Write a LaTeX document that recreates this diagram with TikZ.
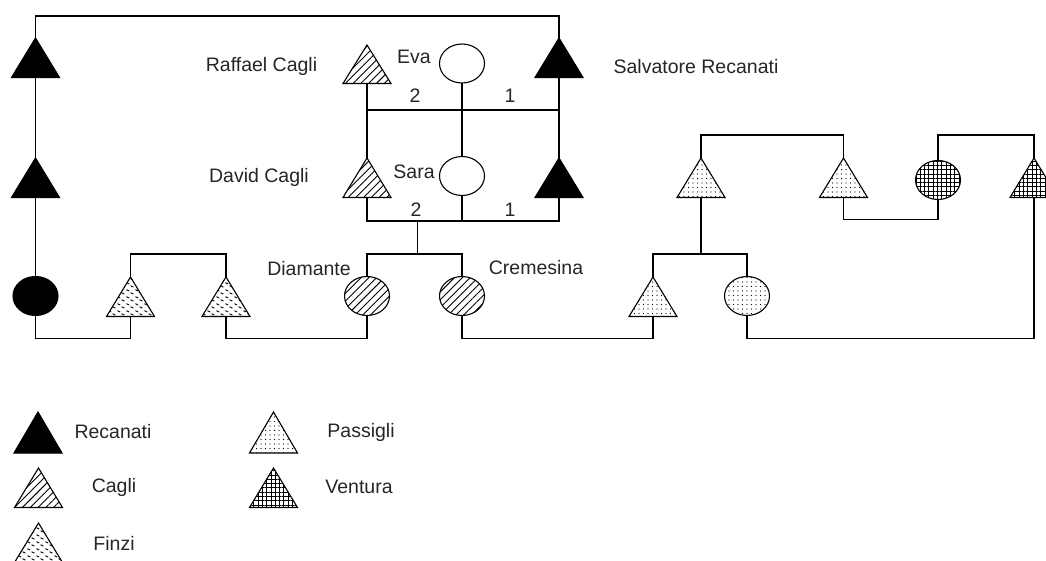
\documentclass[tikz,border=0pt]{standalone}
\usepackage{fontspec}
\setmainfont{Liberation Sans}
\usetikzlibrary{shapes.geometric,patterns,patterns.meta}
\pgfdeclarepatternformonly{finzi}{\pgfpointorigin}{\pgfpoint{9pt}{7pt}}{\pgfpoint{9pt}{7pt}}{%
  \pgfsetlinewidth{1pt}%
  \pgfpathmoveto{\pgfpoint{0.5pt}{6pt}}\pgfpathlineto{\pgfpoint{3.5pt}{4.4pt}}%
  \pgfpathmoveto{\pgfpoint{5pt}{2.6pt}}\pgfpathlineto{\pgfpoint{8pt}{1pt}}%
  \pgfusepath{stroke}}
\begin{document}
\begin{tikzpicture}[x=1pt,y=-1pt,line width=1.1pt,
  tri/.style={isosceles triangle, isosceles triangle stretches, shape border rotate=90,
    minimum width=48, minimum height=39.5, inner sep=0, outer sep=0, draw, anchor=apex},
  circ/.style={ellipse, minimum width=45, minimum height=39, inner sep=0, outer sep=0, draw},
  recfill/.style={fill=black},
  cagfill/.style={pattern={Lines[angle=45,distance=5.5pt,line width=0.9pt]}},
  finfill/.style={pattern=finzi},
  pasfill/.style={pattern={Dots[distance=4.5pt,radius=0.55pt]}},
  venfill/.style={pattern={Hatch[distance=4.3pt,line width=0.8pt]}},
  lbl/.style={font=\fontsize{19.5}{22}\selectfont, inner sep=0, text=black!85}]
\useasboundingbox (0,0) rectangle (1046,561);
\clip (0,0) rectangle (1046,561);
\fill[white] (0,0) rectangle (1046,561);
% --- Recanati / Cagli generations
\node[tri,recfill] (L1) at (35.5,38) {};
\node[tri,recfill] (L2) at (35.5,158) {};
\node[tri,recfill] (R1) at (559,38) {};
\node[tri,recfill] (R2) at (559,158) {};
\node[tri,cagfill,minimum height=38.5] (RC) at (367,45) {};
\node[tri,cagfill] (DC) at (367,158) {};
\node[circ] (Eva) at (462,63.5) {};
\node[circ] (Sara) at (462,176) {};
% --- third row
\node[circ,recfill] (BC) at (35.5,296) {};
\node[tri,finfill] (F1) at (130.5,277) {};
\node[tri,finfill] (F2) at (226,277) {};
\node[circ,cagfill] (Dia) at (367,296) {};
\node[circ,cagfill] (Cre) at (462,296) {};
\node[tri,pasfill] (P3) at (653,277) {};
\node[circ,pasfill] (PC) at (747,296) {};
\node[tri,pasfill] (P1) at (701,158) {};
\node[tri,pasfill] (P2) at (843.5,158) {};
\node[circ,venfill] (VC) at (938,180) {};
\node[tri,venfill] (VT) at (1034,158) {};
% --- labels
\node[lbl] (tRC) at (261.5,66) {Raffael Cagli};
\node[lbl] (tDC) at (259,177) {David Cagli};
\node[lbl] (tEva) at (414,57) {Eva};
\node[lbl] (tSara) at (414,172) {Sara};
\node[lbl] (tSR) at (696,67) {Salvatore Recanati};
\node[lbl] (tDia) at (309,269) {Diamante};
\node[lbl] (tCre) at (536,268) {Cremesina};
\node[lbl] (n2a) at (415,96) {2};
\node[lbl] (n1a) at (510,96) {1};
\node[lbl] (n2b) at (416,210) {2};
\node[lbl] (n1b) at (510,210) {1};
% --- helper levels
\coordinate (topL) at (35.5,16);
\coordinate (topR) at (559,16);
\coordinate (m1) at (0,110);
\coordinate (m2) at (0,221);
\coordinate (c1) at (417.5,221);
\coordinate (s1) at (0,254);
\coordinate (b1) at (0,338.5);
\coordinate (t1) at (0,135);
\coordinate (m3) at (0,219.5);
% --- connectors
\draw (L1.apex) -- (topL) -- (topR) -- (R1.apex);
\draw (L1.lower side) -- (L2.apex);
\draw (L2.lower side) -- (BC.north);
\draw (R1.lower side) -- (R2.apex);
\draw (RC.lower side) -- (DC.apex);
\draw (Eva.south) -- (Sara.north);
\draw (RC.lower side |- m1) -- (R2.apex |- m1);
\draw (DC.lower side) |- (R2.lower side |- m2) -- (R2.lower side);
\draw (Sara.south) -- (Sara.south |- m2);
\draw (c1) -- (c1 |- s1);
\draw (Dia.north) |- (Cre.north |- s1) -- (Cre.north);
\draw (F1.apex) |- (F2.apex |- s1) -- (F2.apex);
\draw (BC.south) |- (F1.lower side |- b1) -- (F1.lower side);
\draw (F2.lower side) |- (Dia.south |- b1) -- (Dia.south);
\draw (Cre.south) |- (P3.lower side |- b1) -- (P3.lower side);
\draw (P3.apex) |- (PC.north |- s1) -- (PC.north);
\draw (P1.lower side) -- (P1.lower side |- s1);
\draw (P1.apex) |- (P2.apex |- t1) -- (P2.apex);
\draw (P2.lower side) |- (VC.south |- m3) -- (VC.south);
\draw (VC.north) |- (VT.apex |- t1) -- (VT.apex);
\draw (VT.lower side) |- (PC.south |- b1) -- (PC.south);
% --- legend
\node[tri,recfill,minimum height=41] (LR) at (38,412) {};
\node[tri,cagfill] (LC) at (38.5,468) {};
\node[tri,finfill] (LF) at (38.5,523) {};
\node[tri,pasfill,minimum height=41] (LP) at (273.5,412) {};
\node[tri,venfill] (LV) at (273.5,468) {};
\node[lbl] (tLR) at (113,432) {Recanati};
\node[lbl] (tLC) at (114,487) {Cagli};
\node[lbl] (tLF) at (114,543) {Finzi};
\node[lbl] (tLP) at (361,432) {Passigli};
\node[lbl] (tLV) at (359,487) {Ventura};
\end{tikzpicture}
\end{document}
